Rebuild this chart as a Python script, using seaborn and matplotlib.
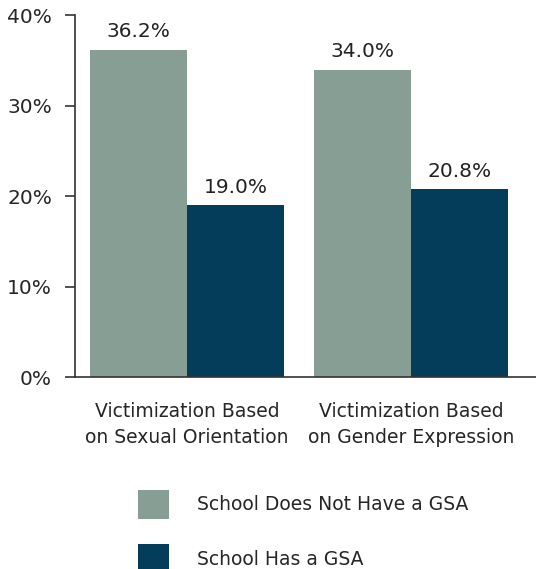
import matplotlib
matplotlib.use("Agg")
import matplotlib.pyplot as plt
import seaborn as sns
import pandas as pd
from matplotlib.ticker import FixedLocator, PercentFormatter

categories = ["Victimization Based\non Sexual Orientation", "Victimization Based\non Gender Expression"]
groups = ["School Does Not Have a GSA", "School Has a GSA"]
no_gsa = [36.2, 34.0]
has_gsa = [19.0, 20.8]
colors = ["#879E95", "#033D5A"]

df = pd.DataFrame({
    "category": categories * 2,
    "group": [groups[0]] * 2 + [groups[1]] * 2,
    "value": no_gsa + has_gsa,
})

sns.set_style("white")
plt.rcParams["font.family"] = ["DejaVu Sans"]
fs = 13.5
fs_num = 14.5

fig = plt.figure(figsize=(5.36, 5.69), dpi=100)
ax = fig.add_axes([0.14, 0.3374, 0.86, 0.6356])

sns.barplot(data=df, x="category", y="value", hue="group", palette=colors,
            width=0.87, saturation=1, linewidth=0, ax=ax, legend=True)

for cont in ax.containers:
    ax.bar_label(cont, labels=[f"{v:.1f}%" for v in cont.datavalues],
                 padding=6, fontsize=fs_num, color="#222222")

ax.set_ylim(0, 40)
ax.set_xlim(-0.5, 1.558)
ax.set_yticks([0, 10, 20, 30, 40])
ax.yaxis.set_major_formatter(PercentFormatter(decimals=0))
ax.xaxis.set_major_locator(FixedLocator([-0.5, 0.5]))
ax.set_xticklabels(["", ""])
ax.xaxis.set_minor_locator(FixedLocator([0, 1]))
ax.set_xticklabels(categories, minor=True, linespacing=1.45)
ax.tick_params(axis="x", which="minor", length=0, pad=18, labelsize=fs)
ax.tick_params(axis="x", which="major", direction="out", length=7, width=1.2, color="#333333")
ax.tick_params(axis="y", direction="out", length=7, width=1.2, color="#333333",
               labelsize=fs_num, pad=9.5, left=True)
ax.set_xlabel("")
ax.set_ylabel("")

for s in ["top", "right"]:
    ax.spines[s].set_visible(False)
for s in ["left", "bottom"]:
    ax.spines[s].set_color("#333333")
    ax.spines[s].set_linewidth(1.2)

handles, labels = ax.get_legend_handles_labels()
ax.legend_.remove()
fig.legend(handles, labels, loc="upper left", bbox_to_anchor=(0.257, 0.139),
           frameon=False, fontsize=fs, handlelength=1.65, handleheight=2.0,
           labelspacing=1.35, handletextpad=1.5, borderaxespad=0, borderpad=0)

fig.savefig("out.png", dpi=100)
